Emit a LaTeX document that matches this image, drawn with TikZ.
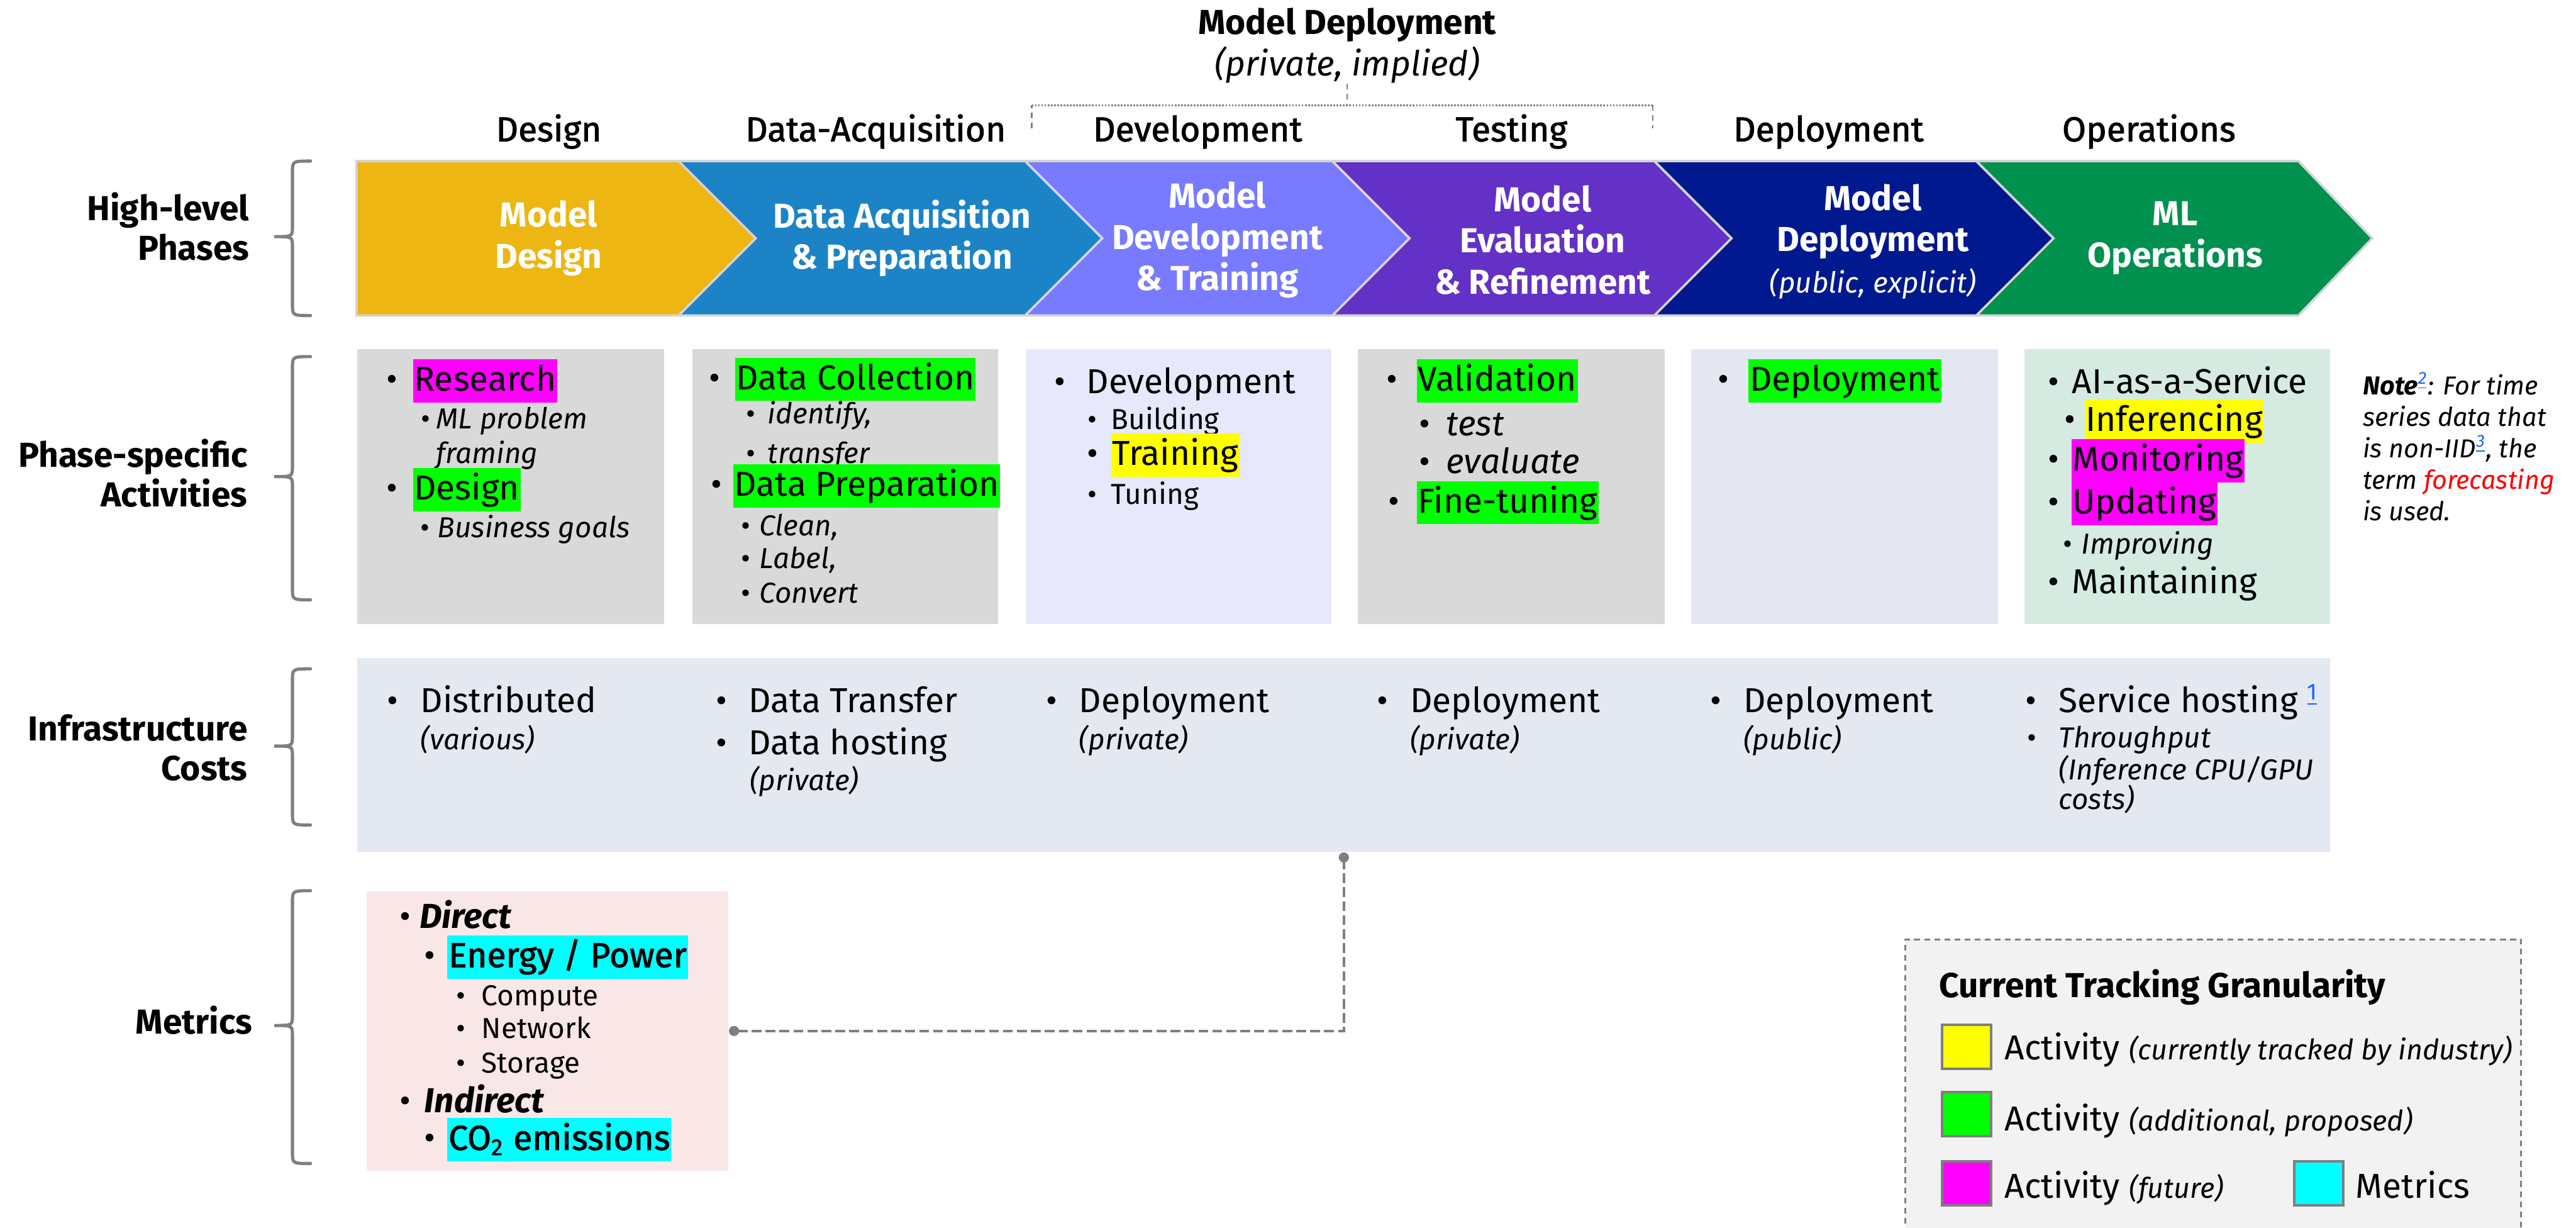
\documentclass[tikz,border=0pt]{standalone}
\usepackage{fontspec}
\setmainfont{Fira Sans}
\newfontfamily\medfont[FakeBold=1.6]{Fira Sans}
\usetikzlibrary{arrows.meta}
\definecolor{phyellow}{HTML}{EDB612}
\definecolor{phblue}{HTML}{1C84C6}
\definecolor{phlilac}{HTML}{787BFF}
\definecolor{phpurple}{HTML}{6331C6}
\definecolor{phnavy}{HTML}{00198F}
\definecolor{phgreen}{HTML}{00914F}
\definecolor{panelgray}{HTML}{D9D9D9}
\definecolor{panellav}{HTML}{E7E8FC}
\definecolor{panelslate}{HTML}{E4E7F2}
\definecolor{panelmint}{HTML}{D5EBE1}
\definecolor{infrabg}{HTML}{E4E8F1}
\definecolor{metricbg}{HTML}{F9E7E7}
\definecolor{legendbg}{HTML}{F2F2F2}
\definecolor{hlyellow}{HTML}{FFFF00}
\definecolor{hlgreen}{HTML}{00FF00}
\definecolor{hlmag}{HTML}{FF00FF}
\definecolor{hlcyan}{HTML}{00FFFF}
\definecolor{linegray}{HTML}{7F7F7F}
\definecolor{chevedge}{HTML}{D4D4D4}
\definecolor{refblue}{HTML}{1A62FF}
\newcommand\hlt[2]{{\setlength{\fboxsep}{0.4pt}\colorbox{#1}{\rule[-3.6pt]{0pt}{14.2pt}#2}}}
\newcommand\bu[1][5pt]{\llap{\textbullet\hspace{#1}}}
\newcommand\sidebrace[3]{\draw[brc] (189,#1) .. controls (178,#1) .. (178,#1+7) -- (178,#2-6) .. controls (178,#2) .. (167,#2) .. controls (178,#2) .. (178,#2+6) -- (178,#3-7) .. controls (178,#3) .. (189,#3);}
\tikzset{
  lbl/.style={font=\bfseries\fontsize{12}{13.7}\selectfont, align=right, inner sep=0pt, anchor=east},
  hdr/.style={font=\fontsize{12}{14}\selectfont\medfont, anchor=base, inner sep=0pt},
  chev/.style={fill=#1, draw=chevedge, line width=0.8pt},
  chevtxt/.style={text=white, font=\bfseries\fontsize{12}{14.3}\selectfont, align=center, inner sep=0pt},
  itm/.style={anchor=base west, inner sep=0pt, font=\fontsize{12}{14}\selectfont},
  sub/.style={anchor=base west, inner sep=0pt, font=\fontsize{10}{12}\selectfont},
  panel/.style={fill=#1, anchor=north west, inner sep=0pt, minimum width=37.4mm, minimum height=33.5mm},
  brc/.style={draw=linegray, line width=1.1pt, line cap=round},
  conn/.style={draw=linegray, line width=1pt, dash pattern=on 1.2mm off 0.5mm, {Circle[length=3.5pt]}-{Circle[length=3.5pt]}},
  swatch/.style={fill=#1, draw=linegray, line width=0.9pt, minimum width=6mm, minimum height=5.4mm, inner sep=0pt},
}
\begin{document}
\begin{tikzpicture}[x=0.2mm, y=-0.2mm]
\useasboundingbox (0,0) rectangle (1568,747);

\node[anchor=base, inner sep=0pt, font=\bfseries\fontsize{12}{14}\selectfont] (mdtitle) at (820,21) {Model Deployment};
\node[anchor=base, inner sep=0pt, font=\itshape\fontsize{12}{14}\selectfont] (mdnote) at (820,46) {(private, implied)};
\draw[linegray, line width=0.6pt, dash pattern=on 0.6pt off 0.5pt] (628,64) -- (1006,64);
\draw[linegray, line width=0.6pt, dash pattern=on 2pt off 1.5pt] (628,78) -- (628,64) (1006,64) -- (1006,78) (mdnote.south) -- (mdnote.south |- 0,64);

\node[hdr] (hdesign) at (334,86) {Design};
\node[hdr] (hacq) at (533,86) {Data-Acquisition};
\node[hdr] (hdev) at (729,86) {Development};
\node[hdr] (htest) at (920,86) {Testing};
\node[hdr] (hdepl) at (1113,86) {Deployment};
\node[hdr] (hops) at (1308,86) {Operations};

\path[chev=phyellow] (217,98) -- (413,98) -- (460,145) -- (413,192) -- (217,192) -- cycle;
\path[chev=phblue] (413,98) -- (624,98) -- (671,145) -- (624,192) -- (413,192) -- (460,145) -- cycle;
\path[chev=phlilac] (624,98) -- (811,98) -- (858,145) -- (811,192) -- (624,192) -- (671,145) -- cycle;
\path[chev=phpurple] (811,98) -- (1007,98) -- (1054,145) -- (1007,192) -- (811,192) -- (858,145) -- cycle;
\path[chev=phnavy] (1007,98) -- (1203,98) -- (1250,145) -- (1203,192) -- (1007,192) -- (1054,145) -- cycle;
\path[chev=phgreen] (1203,98) -- (1399,98) -- (1444,145) -- (1399,192) -- (1203,192) -- (1250,145) -- cycle;
\node[chevtxt] (cdesign) at (334,145) {Model\\Design};
\node[chevtxt] (cacq) at (549,145) {Data Acquisition\\\& Preparation};
\node[chevtxt] (cdev) at (741,146) {Model\\Development\\\& Training};
\node[chevtxt] (ceval) at (939,146) {Model\\Evaluation\\\& Refinement};
\node[chevtxt] (cdepl) at (1140,147) {Model\\Deployment\\{\mdseries\itshape\fontsize{10}{12}\selectfont(public, explicit)}};
\node[chevtxt] (cops) at (1324,145) {ML\\Operations};

\node[lbl] (lphase) at (152,138) {High-level\\Phases};
\node[lbl] (lact) at (151,288) {Phase-specific\\Activities};
\node[lbl] (linfra) at (151,455) {Infrastructure\\Costs};
\node[lbl, anchor=base east] (lmetric) at (154,629) {Metrics};
\sidebrace{98}{144}{192}
\sidebrace{217}{290}{365}
\sidebrace{407}{454}{502}
\sidebrace{542}{624}{708}

% activity panels
\node[panel=panelgray] (pdesign) at (217,212) {};
\node[panel=panelgray, minimum width=37.2mm] (pacq) at (421,212) {};
\node[panel=panellav, minimum width=37.2mm] (pdev) at (624,212) {};
\node[panel=panelgray] (peval) at (826,212) {};
\node[panel=panelslate] (pdepl) at (1029,212) {};
\node[panel=panelmint, minimum width=37.2mm] (pops) at (1232,212) {};

\node[itm] (research) at (251,238) {\bu[5.2pt]\hlt{hlmag}{Research}};
\node[sub] (mlprob) at (265,261) {\bu[2pt]\itshape ML problem};
\node[sub] (framing) at (265,282) {\itshape framing};
\node[itm] (dsgn) at (251,304) {\bu[5.2pt]\hlt{hlgreen}{Design}};
\node[sub] (goals) at (266,327) {\bu[2.6pt]\itshape Business goals};

\node[itm] (collect) at (447,237) {\bu[5pt]\hlt{hlgreen}{Data Collection}};
\node[sub] (identify) at (467,258) {\bu[4.3pt]\itshape identify,};
\node[sub] (transfer) at (467,282) {\bu[4.3pt]\itshape transfer};
\node[itm] (prep) at (446,302) {\bu[3.9pt]\hlt{hlgreen}{Data Preparation}};
\node[sub] (clean) at (462,326) {\bu[3.1pt]\itshape Clean,};
\node[sub] (labelling) at (462,346) {\bu[3.1pt]\itshape Label,};
\node[sub] (convert) at (462,367) {\bu[3.1pt]\itshape Convert};

\node[itm] (devel) at (661,239.5) {\bu[7.3pt]Development};
\node[sub] (build) at (676,261.4) {\bu[4.8pt]Building};
\node[itm] (train) at (676,283) {\bu[4.4pt]\hlt{hlyellow}{Training}};
\node[sub] (tune) at (676,307) {\bu[4.8pt]Tuning};

\node[itm] (valid) at (862,238) {\bu[6.7pt]\hlt{hlgreen}{Validation}};
\node[itm] (test) at (880,265) {\bu[5.6pt]\itshape test};
\node[itm] (evaluate) at (880,288) {\bu[5.6pt]\itshape evaluate};
\node[itm] (finetune) at (862,312) {\bu[5.9pt]\hlt{hlgreen}{Fine-tuning}};

\node[itm] (deploy) at (1064,238) {\bu[6.7pt]\hlt{hlgreen}{Deployment}};

\node[itm] (aaas) at (1261,239.5) {\bu[4.4pt]AI-as-a-Service};
\node[itm] (infer) at (1268.5,262.6) {\bu[3pt]\hlt{hlyellow}{Inferencing}};
\node[itm] (monitor) at (1260.5,286.7) {\bu[4.2pt]\hlt{hlmag}{Monitoring}};
\node[itm] (update) at (1260.5,312.6) {\bu[4.2pt]\hlt{hlmag}{Updating}};
\node[sub] (improve) at (1266.7,337) {\bu[3.2pt]\itshape Improving};
\node[itm] (maintain) at (1261,361) {\bu[4.4pt]Maintaining};

\node[anchor=north west, inner sep=0pt, align=left, font=\itshape\fontsize{9}{10.9}\selectfont] (note) at (1438,226) {\textbf{Note}\textsuperscript{\color{refblue}\underline{2}}: For time\\series data that\\is non-IID\textsuperscript{\color{refblue}\underline{3}}, the\\term \textcolor{red}{forecasting}\\is used.};

% infrastructure costs
\node[panel=infrabg, minimum width=240.2mm, minimum height=23.6mm] (infra) at (217,400) {};
\node[itm] (distrib) at (255.6,433.5) {\bu[7.6pt]Distributed};
\node[sub] (various) at (255.6,456) {\itshape(various)};
\node[itm] (dtrans) at (455.5,433.5) {\bu[7.6pt]Data Transfer};
\node[itm] (dhost) at (455.5,459) {\bu[7.6pt]Data hosting};
\node[sub] (dhostpriv) at (456,481) {\itshape(private)};
\node[itm] (idev) at (656.5,433.5) {\bu[7.6pt]Deployment};
\node[sub] (idevpriv) at (656.5,456) {\itshape(private)};
\node[itm] (itest) at (858,433.5) {\bu[7.6pt]Deployment};
\node[sub] (itestpriv) at (858,456) {\itshape(private)};
\node[itm] (ipub) at (1060.8,433.5) {\bu[7.6pt]Deployment};
\node[sub] (ipubnote) at (1060.8,456) {\itshape(public)};
\node[itm] (svchost) at (1252.8,433.5) {\bu[7.6pt]Service hosting \textsuperscript{\color{refblue}\underline{1}}};
\node[sub] (thruput) at (1252.8,455) {\bu[7.6pt]\itshape Throughput};
\node[sub] (cpugpu) at (1252.8,474.6) {\itshape(Inference CPU/GPU};
\node[sub] (costs) at (1252.8,492.5) {\itshape costs)};

% metrics
\node[panel=metricbg, minimum width=44mm, minimum height=34mm] (metrics) at (223,542) {};
\node[itm] (direct) at (255,565) {\bu[3pt]\bfseries\itshape Direct};
\node[itm] (energy) at (272,588.5) {\bu[4.2pt]\medfont\hlt{hlcyan}{Energy / Power}};
\node[sub] (compute) at (292.8,612) {\bu[5.6pt]Compute};
\node[sub] (network) at (292.8,632) {\bu[5.6pt]Network};
\node[sub] (storage) at (292.8,653) {\bu[5.6pt]Storage};
\node[itm] (indirect) at (258,677) {\bu[4.7pt]\bfseries\itshape Indirect};
\node[itm] (co2) at (272,699.7) {\bu[4.2pt]\medfont\hlt{hlcyan}{CO\textsubscript{2} emissions}};

\draw[conn] (metrics.east) -| (infra.south -| 818,0);

% legend
\node[panel=legendbg, draw=linegray, line width=0.7pt, dash pattern=on 2pt off 1.5pt, minimum width=75mm, minimum height=40mm] (legend) at (1159,571) {};
\node[anchor=base west, inner sep=0pt, font=\bfseries\fontsize{12}{14}\selectfont] (legtitle) at (1180,607) {Current Tracking Granularity};
\node[swatch=hlyellow] (swyellow) at (1197,637) {};
\node[itm] (legyellow) at (1220,645) {Activity {\itshape\fontsize{9.8}{12}\selectfont(currently tracked by industry)}};
\node[swatch=hlgreen] (swgreen) at (1197,678) {};
\node[itm] (leggreen) at (1220,688) {Activity {\itshape\fontsize{9.8}{12}\selectfont(additional, proposed)}};
\node[swatch=hlmag] (swmag) at (1197,720) {};
\node[itm] (legmag) at (1220,729) {Activity {\itshape\fontsize{9.8}{12}\selectfont(future)}};
\node[swatch=hlcyan] (swcyan) at (1411.5,720) {};
\node[itm] (legcyan) at (1433.5,729) {Metrics};
\end{tikzpicture}
\end{document}
